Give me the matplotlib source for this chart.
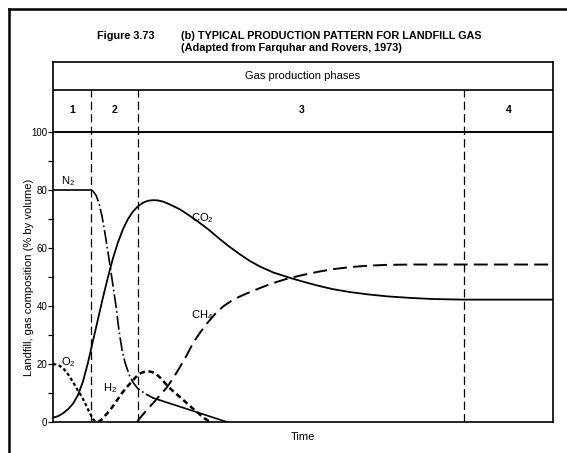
import matplotlib
matplotlib.use("Agg")
import matplotlib.pyplot as plt
from matplotlib.lines import Line2D

plt.rcParams['font.family'] = ['Liberation Sans', 'DejaVu Sans']
plt.rcParams['mathtext.fontset'] = 'custom'
plt.rcParams['mathtext.rm'] = 'Liberation Sans'
plt.rcParams['mathtext.it'] = 'Liberation Sans'
plt.rcParams['lines.scale_dashes'] = False

# ---------------- data ----------------
phase_labels = ["1", "2", "3", "4"]
phase_bounds = [0, 7.6, 17.0, 82.3, 100]

time_co2 = [0, 1, 2, 3, 4, 5, 6, 7, 8, 9, 10, 11, 12, 13, 14, 15, 16, 17, 18, 19,
            20, 21, 22, 23, 24, 25.4, 27, 29, 31, 33, 35, 37.4, 39.4, 41.4, 44,
            47.4, 50, 53, 56, 59.4, 63, 67, 71.4, 76, 82, 100]
co2 = [1.5, 2.0, 3.0, 4.4, 6.3, 9.3, 14, 20.5, 28, 35.5, 43, 50, 56.5, 62, 66.5,
       70, 72.6, 74.4, 75.6, 76.3, 76.5, 76.4, 76.0, 75.3, 74.5, 73.3, 71.5, 69.1,
       66.5, 63.6, 60.8, 57.8, 55.5, 53.6, 51.6, 49.7, 48.4, 47.0, 45.8, 44.8,
       44.0, 43.3, 42.8, 42.4, 42.2, 42.2]

time_ch4 = [16.8, 17.5, 18.5, 20, 21.4, 22.8, 24, 25.4, 26.8, 28, 29.4, 30.8, 32.4,
            34, 35.7, 37.4, 39.4, 41.4, 44, 47, 50, 53, 56, 59.4, 63, 67, 72, 82, 100]
ch4 = [0, 1.6, 3.6, 6.5, 9.2, 12, 15, 19, 23.2, 27.2, 30.8, 34, 37.2, 39.8, 41.8,
       43.3, 44.8, 46.2, 47.9, 49.5, 50.7, 51.8, 52.7, 53.4, 53.9, 54.2, 54.3,
       54.3, 54.3]

time_h2 = [9, 9.6, 10.2, 10.8, 11.4, 12, 12.6, 13.2, 13.8, 14.8, 15.8, 16.4, 17,
           17.6, 18.2, 18.8, 19.4, 20, 20.6, 21.3, 22, 22.8, 23.6, 24.5, 25.4,
           27.2, 28.8, 30.2, 31.4]
h2 = [0, 0.6, 1.8, 2.9, 4.1, 5.5, 7, 8.5, 10, 12.1, 14, 15.2, 16.2, 16.9, 17.3,
      17.45, 17.4, 17.1, 16.6, 15.5, 14.2, 12.7, 11.3, 9.9, 8.6, 5.8, 3.4, 1.4, 0]

time_o2 = [0, 1, 2, 3, 4, 5, 5.8, 6.5, 7.2, 8, 8.6]
o2 = [20, 19.7, 18.6, 16.5, 13.8, 10.8, 8.6, 6.2, 3.6, 1, 0]

time_n2_flat = [0, 7.4]
n2_flat = [80, 80]
time_n2 = [7.6, 8, 8.6, 9.2, 9.8, 10.4, 11, 11.4, 12, 12.6, 13.2, 13.8, 14.4,
           15.4, 16.2, 17, 18.5, 20]
n2 = [80, 79.6, 78.2, 75.5, 71, 65, 58.5, 54, 47, 40, 31.5, 25, 20.5, 15.5,
      13.2, 11.5, 9.7, 8.3]
time_n2_tail = [20, 34.8]
n2_tail = [8.3, 0]

y_ticks = [0, 20, 40, 60, 80, 100]
y_minor = [10, 30, 50, 70, 90]

# ---------------- figure ----------------
W, H = 567, 453
fig = plt.figure(figsize=(W / 100, H / 100), dpi=100)
fig.patch.set_facecolor('white')

ax_l, ax_r, ax_b, ax_t = 53, 553, 422, 62
ax = fig.add_axes([ax_l / W, (H - ax_b) / H, (ax_r - ax_l) / W, (ax_b - ax_t) / H])
ymax = (ax_b - ax_t) / 2.9
ax.set_xlim(0, 100)
ax.set_ylim(0, ymax)

for s in ax.spines.values():
    s.set_linewidth(1.2)
    s.set_color('black')

ax.set_xticks([])
ax.set_yticks(y_ticks)
ax.set_yticklabels([str(v) for v in y_ticks], fontsize=7)
ax.set_yticks(y_minor, minor=True)
ax.tick_params(axis='y', which='both', direction='out', length=3.5, width=0.9, pad=0.5)

# header rows
ax.axhline(100, color='black', lw=1.4)
hdr = 114.5
ax.axhline(hdr, color='black', lw=1.2)
ax.text(50, 119.2, "Gas production phases", ha='center', va='center', fontsize=8)
for i, lab in enumerate(phase_labels):
    xc = (phase_bounds[i] + phase_bounds[i + 1]) / 2
    ax.text(xc, 107.5, lab, ha='center', va='center', fontsize=7.5, fontweight='bold')

# phase boundaries
for xb in phase_bounds[1:-1]:
    ax.plot([xb, xb], [0, hdr], color='black', lw=0.9, dashes=(6, 3))

# curves
ax.plot(time_co2, co2, color='black', lw=1.3)
ax.plot(time_ch4, ch4, color='black', lw=1.4, dashes=(10, 4.5))
ax.plot(time_h2, h2, color='black', lw=1.8, dashes=(4, 2.6))
ax.plot(time_o2, o2, color='black', lw=1.6, dashes=(2.4, 1.8))
ax.plot(time_n2_flat, n2_flat, color='black', lw=1.2)
ax.plot(time_n2, n2, color='black', lw=1.2, dashes=(10, 2.2, 1.2, 2.2))
ax.plot(time_n2_tail, n2_tail, color='black', lw=1.2)

# curve labels
ax.text(3.0, 80.8, r"N$_2$", ha='center', va='bottom', fontsize=8)
ax.text(29.8, 70.3, r"CO$_2$", ha='center', va='center', fontsize=8)
ax.text(29.8, 36.9, r"CH$_4$", ha='center', va='center', fontsize=8)
ax.text(11.4, 11.7, r"H$_2$", ha='center', va='center', fontsize=8)
ax.text(3.0, 20.7, r"O$_2$", ha='center', va='center', fontsize=8)

# axis labels
fig.text(29 / W, 1 - 277 / H, "Landfill, gas composition (% by volume)", rotation=90,
         ha='center', va='center', fontsize=8)
fig.text(303 / W, 1 - 437 / H, "Time", ha='center', va='center', fontsize=8)

# title
fig.text(97 / W, 1 - 36 / H, "Figure 3.73", ha='left', va='center', fontsize=7.8,
         fontweight='bold')
fig.text(181 / W, 1 - 36 / H, "(b) TYPICAL PRODUCTION PATTERN FOR LANDFILL GAS",
         ha='left', va='center', fontsize=7.8, fontweight='bold')
fig.text(181 / W, 1 - 48 / H, "(Adapted from Farquhar and Rovers, 1973)",
         ha='left', va='center', fontsize=7.8, fontweight='bold')

# outer page frame
fig.add_artist(Line2D([8.5 / W, 8.5 / W], [0, 1 - 9 / H], color='black', lw=1.8,
                      transform=fig.transFigure))
fig.add_artist(Line2D([8.5 / W, 1], [1 - 9 / H, 1 - 9 / H], color='black', lw=1.8,
                      transform=fig.transFigure))

fig.savefig("out.png", dpi=100, facecolor='white')
